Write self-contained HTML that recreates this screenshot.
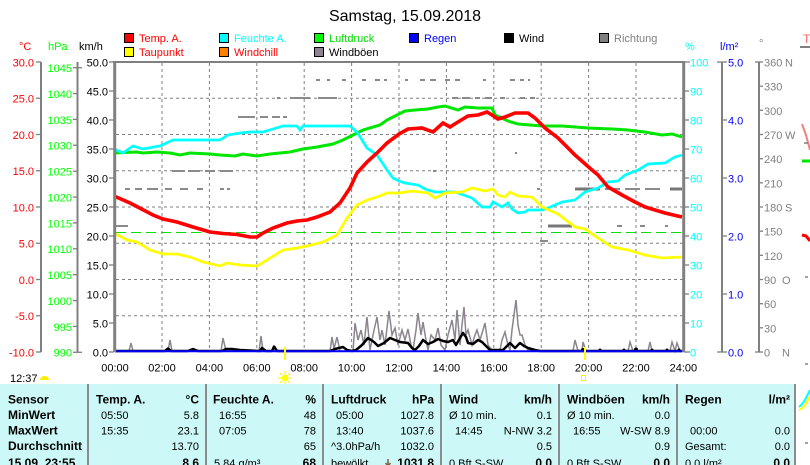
<!DOCTYPE html>
<html><head><meta charset="utf-8"><style>
html,body{margin:0;padding:0;background:#fff;}
svg{display:block;font-family:"Liberation Sans",sans-serif;}
.ax{font-size:11px;}
.tb{font-size:11px;fill:#000;}
.tbb{font-size:12px;font-weight:bold;fill:#000;}
</style></head><body>
<svg width="810" height="465" viewBox="0 0 810 465" xmlns="http://www.w3.org/2000/svg">
<rect width="810" height="465" fill="#fff"/>
<text x="405" y="21" font-size="16" text-anchor="middle" fill="#000">Samstag, 15.09.2018</text>

<!-- legend -->
<g font-size="11">
<rect x="124.5" y="33.5" width="9" height="9" fill="#ff0000" stroke="#000"/><text x="139" y="42" fill="#ff0000">Temp. A.</text>
<rect x="219.5" y="33.5" width="9" height="9" fill="#00ffff" stroke="#000"/><text x="234" y="42" fill="#00ffff">Feuchte A.</text>
<rect x="314.5" y="33.5" width="9" height="9" fill="#00ff00" stroke="#000"/><text x="329" y="42" fill="#00dd00">Luftdruck</text>
<rect x="409.5" y="33.5" width="9" height="9" fill="#0000ff" stroke="#000"/><text x="424" y="42" fill="#0000ff">Regen</text>
<rect x="504.5" y="33.5" width="9" height="9" fill="#000" stroke="#000"/><text x="519" y="42" fill="#000">Wind</text>
<rect x="599.5" y="33.5" width="9" height="9" fill="#808080" stroke="#000"/><text x="614" y="42" fill="#808080">Richtung</text>
<rect x="124.5" y="47.5" width="9" height="9" fill="#ffff00" stroke="#000"/><text x="139" y="56" fill="#ff0000">Taupunkt</text>
<rect x="219.5" y="47.5" width="9" height="9" fill="#ff8000" stroke="#000"/><text x="234" y="56" fill="#ff0000">Windchill</text>
<rect x="314.5" y="47.5" width="9" height="9" fill="#8c8490" stroke="#000"/><text x="329" y="56" fill="#000">Windböen</text>
</g>

<!-- axis headers -->
<g class="ax">
<text x="19" y="50" fill="#ff0000">°C</text>
<text x="48" y="50" fill="#00ff00">hPa</text>
<text x="79" y="50" fill="#000">km/h</text>
<text x="685" y="50" fill="#00ffff">%</text>
<text x="720" y="50" fill="#0000ff">l/m²</text>
<text x="759" y="47" fill="#808080">°</text>
</g>

<!-- left axes -->
<g stroke="#808080" stroke-width="2" fill="none">
<line x1="41" y1="62" x2="41" y2="352"/>
<line x1="77.5" y1="62" x2="77.5" y2="352"/>
<line x1="722" y1="62" x2="722" y2="352"/>
<line x1="759" y1="62" x2="759" y2="352"/>
</g>
<g stroke="#808080" stroke-width="1.3">
<!-- C ticks -->
<line x1="36" y1="62" x2="41" y2="62"/><line x1="36" y1="98.25" x2="41" y2="98.25"/><line x1="36" y1="134.5" x2="41" y2="134.5"/><line x1="36" y1="170.75" x2="41" y2="170.75"/><line x1="36" y1="207" x2="41" y2="207"/><line x1="36" y1="243.25" x2="41" y2="243.25"/><line x1="36" y1="279.5" x2="41" y2="279.5"/><line x1="36" y1="315.75" x2="41" y2="315.75"/><line x1="36" y1="352" x2="41" y2="352"/>
<!-- hPa ticks -->
<line x1="73" y1="67.7" x2="82" y2="67.7"/><line x1="73" y1="93.6" x2="78" y2="93.6"/><line x1="73" y1="119.4" x2="78" y2="119.4"/><line x1="73" y1="145.3" x2="78" y2="145.3"/><line x1="73" y1="171.2" x2="78" y2="171.2"/><line x1="73" y1="197.1" x2="78" y2="197.1"/><line x1="73" y1="222.9" x2="78" y2="222.9"/><line x1="73" y1="248.8" x2="78" y2="248.8"/><line x1="73" y1="274.7" x2="78" y2="274.7"/><line x1="73" y1="300.6" x2="78" y2="300.6"/><line x1="73" y1="326.4" x2="78" y2="326.4"/><line x1="73" y1="352.3" x2="82" y2="352.3"/>
<!-- km/h ticks -->
<line x1="109" y1="62" x2="114" y2="62"/><line x1="109" y1="91" x2="114" y2="91"/><line x1="109" y1="120" x2="114" y2="120"/><line x1="109" y1="149" x2="114" y2="149"/><line x1="109" y1="178" x2="114" y2="178"/><line x1="109" y1="207" x2="114" y2="207"/><line x1="109" y1="236" x2="114" y2="236"/><line x1="109" y1="265" x2="114" y2="265"/><line x1="109" y1="294" x2="114" y2="294"/><line x1="109" y1="323" x2="114" y2="323"/><line x1="109" y1="352" x2="114" y2="352"/>
<!-- % ticks -->
<line x1="684" y1="62" x2="690" y2="62"/><line x1="684" y1="91" x2="689" y2="91"/><line x1="684" y1="120" x2="689" y2="120"/><line x1="684" y1="149" x2="689" y2="149"/><line x1="684" y1="178" x2="689" y2="178"/><line x1="684" y1="207" x2="689" y2="207"/><line x1="684" y1="236" x2="689" y2="236"/><line x1="684" y1="265" x2="689" y2="265"/><line x1="684" y1="294" x2="689" y2="294"/><line x1="684" y1="323" x2="689" y2="323"/><line x1="684" y1="352" x2="690" y2="352"/>
<!-- l/m2 ticks -->
<line x1="717" y1="62" x2="727" y2="62"/><line x1="722" y1="120" x2="727" y2="120"/><line x1="722" y1="178" x2="727" y2="178"/><line x1="722" y1="236" x2="727" y2="236"/><line x1="722" y1="294" x2="727" y2="294"/><line x1="717" y1="352" x2="727" y2="352"/>
<!-- deg ticks -->
<line x1="755" y1="62" x2="763" y2="62"/><line x1="759" y1="86.2" x2="763" y2="86.2"/><line x1="759" y1="110.3" x2="763" y2="110.3"/><line x1="759" y1="134.5" x2="763" y2="134.5"/><line x1="759" y1="158.7" x2="763" y2="158.7"/><line x1="759" y1="182.8" x2="763" y2="182.8"/><line x1="759" y1="207" x2="763" y2="207"/><line x1="759" y1="231.2" x2="763" y2="231.2"/><line x1="759" y1="255.3" x2="763" y2="255.3"/><line x1="759" y1="279.5" x2="763" y2="279.5"/><line x1="759" y1="303.7" x2="763" y2="303.7"/><line x1="759" y1="327.8" x2="763" y2="327.8"/><line x1="755" y1="352" x2="763" y2="352"/>
</g>

<g class="ax" text-anchor="end">
<g fill="#ff0000">
<text x="34" y="66.5">30.0</text><text x="34" y="102.7">25.0</text><text x="34" y="139">20.0</text><text x="34" y="175.2">15.0</text><text x="34" y="211.5">10.0</text><text x="34" y="247.7">5.0</text><text x="34" y="284">0.0</text><text x="34" y="320.2">-5.0</text><text x="34" y="356.5">-10.0</text>
</g>
<g fill="#00ff00">
<text x="72" y="72">1045</text><text x="72" y="98">1040</text><text x="72" y="123.8">1035</text><text x="72" y="149.7">1030</text><text x="72" y="175.6">1025</text><text x="72" y="201.5">1020</text><text x="72" y="227.3">1015</text><text x="72" y="253.2">1010</text><text x="72" y="279.1">1005</text><text x="72" y="305">1000</text><text x="72" y="330.8">995</text><text x="72" y="356.7">990</text>
</g>
<g fill="#000">
<text x="108" y="66.5">50.0</text><text x="108" y="95.5">45.0</text><text x="108" y="124.5">40.0</text><text x="108" y="153.5">35.0</text><text x="108" y="182.5">30.0</text><text x="108" y="211.5">25.0</text><text x="108" y="240.5">20.0</text><text x="108" y="269.5">15.0</text><text x="108" y="298.5">10.0</text><text x="108" y="327.5">5.0</text><text x="108" y="356.5">0.0</text>
</g>
</g>
<g class="ax">
<g fill="#00ffff">
<text x="690" y="66.5">100</text><text x="690" y="95.5">90</text><text x="690" y="124.5">80</text><text x="690" y="153.5">70</text><text x="690" y="182.5">60</text><text x="690" y="211.5">50</text><text x="690" y="240.5">40</text><text x="690" y="269.5">30</text><text x="690" y="298.5">20</text><text x="690" y="327.5">10</text><text x="690" y="356.5">0</text>
</g>
<g fill="#0000ff">
<text x="728" y="66.5">5.0</text><text x="728" y="124.5">4.0</text><text x="728" y="182.5">3.0</text><text x="728" y="240.5">2.0</text><text x="728" y="298.5">1.0</text><text x="728" y="356.5">0.0</text>
</g>
<g fill="#808080">
<text x="764" y="66.5">360</text><text x="785" y="66.5">N</text>
<text x="764" y="90.7">330</text>
<text x="764" y="114.8">300</text>
<text x="764" y="139">270</text><text x="785" y="139">W</text>
<text x="764" y="163.2">240</text>
<text x="764" y="187.3">210</text>
<text x="764" y="211.5">180</text><text x="785" y="211.5">S</text>
<text x="764" y="235.7">150</text>
<text x="764" y="259.8">120</text>
<text x="764" y="284">90</text><text x="782" y="284">O</text>
<text x="764" y="308.2">60</text>
<text x="764" y="332.3">30</text>
<text x="764" y="356.5">0</text><text x="782" y="356.5">N</text>
</g>
</g>

<!-- grid -->
<g stroke="#808080" stroke-width="1" stroke-dasharray="3,3">
<line x1="162" y1="63" x2="162" y2="351"/><line x1="209.4" y1="63" x2="209.4" y2="351"/><line x1="256.8" y1="63" x2="256.8" y2="351"/><line x1="304.2" y1="63" x2="304.2" y2="351"/><line x1="351.6" y1="63" x2="351.6" y2="351"/><line x1="399" y1="63" x2="399" y2="351"/><line x1="446.4" y1="63" x2="446.4" y2="351"/><line x1="493.8" y1="63" x2="493.8" y2="351"/><line x1="541.2" y1="63" x2="541.2" y2="351"/><line x1="588.6" y1="63" x2="588.6" y2="351"/><line x1="636" y1="63" x2="636" y2="351"/>
<line x1="116" y1="98.25" x2="683" y2="98.25"/><line x1="116" y1="134.5" x2="683" y2="134.5"/><line x1="116" y1="170.75" x2="683" y2="170.75"/><line x1="116" y1="207" x2="683" y2="207"/><line x1="116" y1="243.25" x2="683" y2="243.25"/><line x1="116" y1="279.5" x2="683" y2="279.5"/><line x1="116" y1="315.75" x2="683" y2="315.75"/>
</g>

<!-- Richtung marks -->
<g stroke="#8a8a8a" stroke-width="2">
<path d="M316 80h4M327 80h3M342 80h4M362 80h4M375 80h5M384 80h3M405 80h3M420 80h5M430 80h6M445 80h5M455 80h5M483 80h3M510 80h5M520 80h4M528 80h2"/>
<path d="M277 98h3M290 98h20M318 98h19M452 98h6M462 98h8M475 98h5M485 98h7M500 98h5M520 98h5M530 98h5"/>
<path d="M238 117h17M260 117h8M272 117h8M283 117h4"/>
<path d="M172 171h13M188 171h12M205 171h10M220 171h13M433 171h3M515 153h2"/>
<path d="M125 189h5M135 189h7M147 189h11M165 189h7M180 189h8M197 189h6M220 189h4M227 189h3M537 189h3M605 189h15M625 189h15M645 189h15"/>
<path d="M115 226h13M617 226h5M640 226h5M665 226h3M540 241h8"/>
</g>
<g stroke="#777" stroke-width="3">
<path d="M575 189h25M670 189h12M548 226h24"/>
</g>

<!-- green dashed -->
<line x1="116" y1="232.5" x2="681" y2="232.5" stroke="#00e000" stroke-width="1" stroke-dasharray="10,5"/>

<!-- gusts -->
<polyline fill="none" stroke="#8c8490" stroke-width="1.5" points="115,351 129,351 131,343 133,351 168,351 170,340 172,351 221,351 223,338 226,351 259,351 261,336 263,351 330,351 332,337 334,349 337,337 340,351 353,351 355,323 358,340 361,330 364,345 367,317 370,350 373,335 377,317 380,340 382,330 385,345 389,311 392,335 395,328 398,345 402,330 405,340 408,329 411,345 413,350 416,330 418,313 421,335 423,322 426,340 428,350 431,335 435,340 438,328 441,345 445,350 448,335 452,320 455,340 457,310 460,345 462,325 464,307 466,335 468,330 472,345 475,335 477,330 480,340 483,330 485,323 488,345 492,350 500,350 502,340 505,332 508,345 510,350 512,330 516,300 518,325 520,335 522,335 525,345 528,350 535,351 573,351 575,340 578,351 582,351 583,342 586,351 628,351 630,342 633,351 648,351 650,342 652,351 670,351 672,342 675,351 677,343 680,351"/>

<!-- wind -->
<polyline fill="none" stroke="#000" stroke-width="2.5" stroke-linejoin="round" points="115,351 165,351 168,348.5 171,351 188,351 193,349 198,351 222,351 226,349 232,349 240,350 260,351 262,348 266,351 272,351 274,346.5 277,351 330,351 335,349 343,347 347,350 352,351 356,350 362,345 368,338 374,342 378,346 384,343 390,338 395,340 400,342 408,343 412,348 415,350 419,346 423,340 428,344 433,342 438,339 443,341 448,342 453,340 456,345 460,338 463,333 466,337 468,343 473,344 478,340 482,342 485,345 490,350 495,350 503,350 506,347 510,343 515,348 520,343 524,346 528,348 535,350 540,351 682,351"/>
<g fill="#000"><circle cx="583" cy="350" r="2"/><circle cx="600" cy="350" r="1.5"/><circle cx="624" cy="350" r="1.5"/><circle cx="636" cy="349.5" r="2"/><circle cx="652" cy="350" r="1.5"/><circle cx="667" cy="350" r="1.5"/><circle cx="679" cy="350" r="1.5"/></g>

<!-- rain -->
<line x1="115" y1="351.3" x2="683" y2="351.3" stroke="#0000ff" stroke-width="2"/>

<!-- series -->
<polyline fill="none" stroke="#00e600" stroke-width="3" points="114,153 137,152 143,153 157,152 170,153 180,155 190,153 210,154 220,155 235,156 243,154 257,156 270,154 290,152 303,149 317,147 333,144 343,140 353,135 363,130 380,125 387,120 399,114 405,111 415,110 428,109 438,107 445,106 458,110 465,107 478,108 492,108 495,115 508,121 518,124 542,126 562,126 588,128 612,129 628,130 645,132 662,135 672,134 682,137"/>
<polyline fill="none" stroke="#00ffff" stroke-width="2.7" points="114,149 123,153 133,146 143,149 160,146 173,140 193,140 220,140 228,135 240,133 250,132 263,132 273,129 283,126 297,126 300,130 303,126 317,126 350,126 357,132 367,148 377,155 387,170 393,178 399,181 405,183 418,185 425,189 435,192 455,192 472,198 482,207 490,207 493,202 502,207 508,203 512,209 518,213 525,212 528,210 542,210 548,208 562,202 575,200 585,192 598,188 608,182 618,181 625,175 638,170 648,164 665,163 675,157 682,155"/>
<polyline fill="none" stroke="#ffff00" stroke-width="2.7" points="114,233 127,240 137,242 150,250 163,254 177,254 190,257 203,262 220,266 227,263 240,265 257,266 267,260 283,250 297,248 307,246 323,242 337,235 347,218 357,205 367,200 377,197 387,193 399,193 412,191 428,193 435,198 445,193 462,192 472,188 485,191 493,189 498,195 505,197 510,192 518,196 532,197 542,207 558,214 575,227 585,229 598,238 612,247 628,250 645,255 662,258 682,257"/>
<polyline fill="none" stroke="#ff0000" stroke-width="3.6" points="114,196 130,203 153,215 163,219 177,222 193,227 210,232 223,233.5 237,234.5 250,237 257,237 263,233 273,228 287,223 297,221 307,220 317,217 330,212 340,203 350,188 357,173 367,162 377,153 387,143 399,134 408,129 422,128 433,132 443,123 450,127 458,122 468,116 478,115 487,112 492,115 498,119 505,117 515,113 528,113 535,118 545,128 558,138 575,155 592,170 598,175 608,187 622,195 635,202 645,207 655,210 665,213 682,217"/>

<!-- plot border -->
<g stroke="#808080" fill="none">
<line x1="113" y1="62" x2="685" y2="62" stroke-width="2"/>
<line x1="114.7" y1="61" x2="114.7" y2="352" stroke-width="3"/>
<line x1="683.7" y1="61" x2="683.7" y2="352" stroke-width="3"/>
</g>

<!-- x labels -->
<g class="ax" text-anchor="middle" fill="#000">
<text x="115" y="371.5">00:00</text><text x="162" y="371.5">02:00</text><text x="209.4" y="371.5">04:00</text><text x="256.8" y="371.5">06:00</text><text x="304.2" y="371.5">08:00</text><text x="351.6" y="371.5">10:00</text><text x="399" y="371.5">12:00</text><text x="446.4" y="371.5">14:00</text><text x="493.8" y="371.5">16:00</text><text x="541.2" y="371.5">18:00</text><text x="588.6" y="371.5">20:00</text><text x="636" y="371.5">22:00</text><text x="683.4" y="371.5">24:00</text>
</g>

<!-- sun markers -->
<line x1="285" y1="347" x2="285" y2="360" stroke="#ffff00" stroke-width="2"/>
<line x1="585" y1="347" x2="585" y2="360" stroke="#ffff00" stroke-width="2"/>
<g stroke="#ffee00" stroke-width="1">
<path d="M285 371v3M285 382v3M278 378h3M289 378h3M280 373l2 2M288 381l2 2M290 373l-2 2M282 381l-2 2"/>
</g>
<circle cx="285" cy="378" r="3.5" fill="#ffff00"/>
<rect x="581.5" y="375.5" width="4" height="5" fill="none" stroke="#ffee00" stroke-width="1"/>
<text x="10" y="382" class="ax" fill="#000">12:37</text>
<path d="M40 380 A4.5 4 0 0 1 49 380 Z" fill="#ffee00"/>

<!-- table -->
<rect x="0" y="384" width="795" height="81" fill="#ccf8f8"/>
<g stroke="#8c8c8c" stroke-width="2">
<line x1="88" y1="384" x2="88" y2="465"/><line x1="206" y1="384" x2="206" y2="465"/><line x1="323" y1="384" x2="323" y2="465"/><line x1="441" y1="384" x2="441" y2="465"/><line x1="559" y1="384" x2="559" y2="465"/><line x1="677" y1="384" x2="677" y2="465"/><line x1="795" y1="384" x2="795" y2="465"/>
</g>
<g class="tbb">
<text x="8" y="403.5">Sensor</text><text x="8" y="419">MinWert</text><text x="8" y="434.7">MaxWert</text><text x="8" y="450">Durchschnitt</text><text x="8" y="467">15.09. 23:55</text>
<text x="96" y="403.5">Temp. A.</text><text x="199" y="403.5" text-anchor="end">°C</text>
<text x="213" y="403.5">Feuchte A.</text><text x="316" y="403.5" text-anchor="end">%</text>
<text x="331" y="403.5">Luftdruck</text><text x="434" y="403.5" text-anchor="end">hPa</text>
<text x="449" y="403.5">Wind</text><text x="552" y="403.5" text-anchor="end">km/h</text>
<text x="567" y="403.5">Windböen</text><text x="670" y="403.5" text-anchor="end">km/h</text>
<text x="685" y="403.5">Regen</text><text x="790" y="403.5" text-anchor="end">l/m²</text>
<text x="199" y="467" text-anchor="end">8.6</text>
<text x="316" y="467" text-anchor="end">68</text>
<text x="434" y="467" text-anchor="end">1031.8</text>
<text x="552" y="467" text-anchor="end">0.0</text>
<text x="670" y="467" text-anchor="end">0.0</text>
<text x="790" y="467" text-anchor="end">0.0</text>
</g>
<path d="M388 459v7M385.5 463l2.5 3 2.5-3" stroke="#806040" stroke-width="1.5" fill="none"/>
<g class="tb">
<text x="101" y="419">05:50</text><text x="199" y="419" text-anchor="end">5.8</text>
<text x="101" y="434.7">15:35</text><text x="199" y="434.7" text-anchor="end">23.1</text>
<text x="199" y="450" text-anchor="end">13.70</text>
<text x="219" y="419">16:55</text><text x="316" y="419" text-anchor="end">48</text>
<text x="219" y="434.7">07:05</text><text x="316" y="434.7" text-anchor="end">78</text>
<text x="316" y="450" text-anchor="end">65</text>
<text x="214" y="467">5.84 g/m³</text>
<text x="336" y="419">05:00</text><text x="434" y="419" text-anchor="end">1027.8</text>
<text x="336" y="434.7">13:40</text><text x="434" y="434.7" text-anchor="end">1037.6</text>
<text x="331" y="450">^3.0hPa/h</text><text x="434" y="450" text-anchor="end">1032.0</text>
<text x="331" y="467">bewölkt</text>
<text x="449" y="419">Ø 10 min.</text><text x="552" y="419" text-anchor="end">0.1</text>
<text x="455" y="434.7">14:45</text><text x="552" y="434.7" text-anchor="end">N-NW 3.2</text>
<text x="552" y="450" text-anchor="end">0.5</text>
<text x="449" y="467">0 Bft S-SW</text>
<text x="567" y="419">Ø 10 min.</text><text x="670" y="419" text-anchor="end">0.0</text>
<text x="573" y="434.7">16:55</text><text x="670" y="434.7" text-anchor="end">W-SW 8.9</text>
<text x="670" y="450" text-anchor="end">0.9</text>
<text x="567" y="467">0 Bft S-SW</text>
<text x="690" y="434.7">00:00</text><text x="790" y="434.7" text-anchor="end">0.0</text>
<text x="685" y="450">Gesamt:</text><text x="790" y="450" text-anchor="end">0.0</text>
<text x="685" y="467">0.0 l/m²</text>
</g>

<!-- partial neighbouring panel at right edge -->
<text x="803" y="43" font-size="12" fill="#ff6666">T</text>
<line x1="800" y1="47" x2="810" y2="47" stroke="#808080" stroke-width="2"/>
<polyline points="802,124 806,135 810,150" fill="none" stroke="#f08080" stroke-width="2"/>
<line x1="802" y1="161" x2="810" y2="161" stroke="#00e600" stroke-width="3"/>
<polyline points="802,235 806,236 810,241" fill="none" stroke="#ff0000" stroke-width="3"/>
<g stroke="#808080" stroke-width="1.5"><path d="M804 143h4M805 277h3M805 364h3M805 443h3"/></g>
<path d="M799 407 Q803 404 806 398 T810 390" fill="none" stroke="#00ffff" stroke-width="2"/>
<path d="M799 410 Q804 408 807 402 T810 396" fill="none" stroke="#ffff00" stroke-width="2"/>
</svg>
</body></html>
